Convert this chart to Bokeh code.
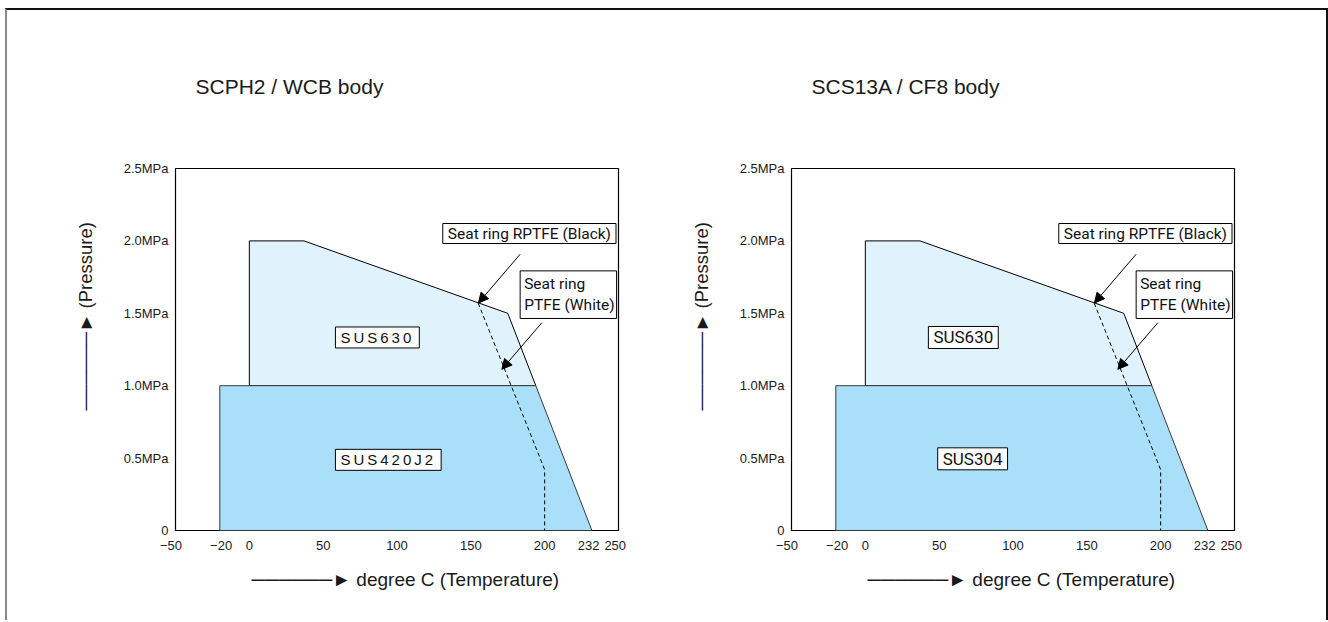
from bokeh.plotting import figure
from bokeh.models import Range1d, FixedTicker, Label, Arrow, NormalHead, Title
from bokeh.layouts import row
from bokeh.embed import file_html
from bokeh.resources import INLINE

# ---------------- data ----------------
titles = ["SCPH2 / WCB body", "SCS13A / CF8 body"]
upper_labels = ["\u2009".join("SUS630"), "SUS630"]
lower_labels = ["\u2009".join("SUS420J2"), "SUS304"]

x_ticks = [-50, -20, 0, 50, 100, 150, 200, 232, 250]
x_tick_labels = ["\u221250\u2002\u2009", "\u2009\u221220", "0", "50", "100", "150", "200",
                 "232\u2002", "250\u2002"]
y_ticks = [0, 0.5, 1.0, 1.5, 2.0, 2.5]
y_tick_labels = ["0", "0.5MPa", "1.0MPa", "1.5MPa", "2.0MPa", "2.5MPa"]
x_caption = "degree C (Temperature)"
y_caption = "(Pressure)"

# SUS630 (upper) limit region
upper_temp = [0, 0, 37, 175, 194]
upper_press = [1.0, 2.0, 2.0, 1.5, 1.0]
# SUS420J2 / SUS304 (lower) limit region
lower_temp = [-20, -20, 194, 232]
lower_press = [0, 1.0, 1.0, 0]
# PTFE (white) seat ring limit (dashed)
ptfe_temp = [155, 200, 200]
ptfe_press = [1.57, 0.42, 0]

FONT = "Liberation Sans"
NARROW = "Roboto"
ARROW = "\u2500" * 6 + "\u25ba"


def make_chart(i, width, min_left, min_right):
    p = figure(width=width, height=620, output_backend="svg", toolbar_location=None,
               title=titles[i],
               x_range=Range1d(-50, 250), y_range=Range1d(0, 2.5),
               min_border_left=min_left, min_border_right=min_right,
               min_border_top=168, min_border_bottom=90,
               styles={"margin-top": "-10px"})
    p.background_fill_color = "white"
    p.border_fill_color = "white"
    p.border_fill_alpha = 0
    p.outline_line_color = "black"
    p.outline_line_width = 1.2
    p.xgrid.visible = False
    p.ygrid.visible = False

    # chart title
    p.title.align = "left"
    p.title.offset = 20
    p.title.standoff = 142
    p.title.text_font = FONT
    p.title.text_font_size = "21px"
    p.title.text_font_style = "normal"
    p.title.text_color = "#1a1a1a"

    for ax in (p.xaxis[0], p.yaxis[0]):
        ax.axis_line_color = None
        ax.major_tick_line_color = None
        ax.minor_tick_line_color = None
        ax.major_tick_in = 0
        ax.major_tick_out = 0
        ax.minor_tick_in = 0
        ax.minor_tick_out = 0
        ax.major_label_text_font = FONT
        ax.major_label_text_font_size = "13px"
        ax.major_label_text_color = "#1a1a1a"
        ax.major_label_standoff = 7
    p.xaxis.ticker = FixedTicker(ticks=x_ticks)
    p.xaxis.major_label_overrides = dict(zip(x_ticks, x_tick_labels))
    p.yaxis.ticker = FixedTicker(ticks=y_ticks)
    p.yaxis.major_label_overrides = dict(zip(y_ticks, y_tick_labels))

    # axis captions (with arrows) as side-panel titles
    p.add_layout(Title(text=ARROW + "  " + y_caption, align="left", offset=120, standoff=49,
                       text_font=FONT, text_font_size="18.5px", text_font_style="normal",
                       text_color="#1a1a1a"), "left")
    p.add_layout(Title(text=ARROW + "  " + x_caption, align="left", offset=76, standoff=23,
                       text_font=FONT, text_font_size="19px", text_font_style="normal",
                       text_color="#1a1a1a"), "below")

    # regions
    p.patch(upper_temp, upper_press, fill_color="#e0f2fc", line_color="black", line_width=1)
    p.patch(lower_temp, lower_press, fill_color="#aadff9", line_color="#3a3a3a", line_width=1)
    p.line(ptfe_temp, ptfe_press, line_color="black", line_width=1, line_dash="4 3")

    # material labels
    if i == 0:
        lab_font, lab_size = FONT, "15px"
        upos, lpos = (58.3, 1.333), (58.3, 0.488)
        pad = dict(left=5, right=8, top=2, bottom=2)
    else:
        lab_font, lab_size = NARROW, "17px"
        upos, lpos = (42.7, 1.333), (49.0, 0.495)
        pad = dict(left=5, right=5, top=1, bottom=1)
    for (xv, yv), txt in ((upos, upper_labels[i]), (lpos, lower_labels[i])):
        p.add_layout(Label(x=xv, y=yv, text=txt, text_align="left", text_baseline="middle",
                           text_font=lab_font, text_font_size=lab_size, text_color="#111111",
                           background_fill_color="white", border_line_color="black",
                           border_line_width=1, padding=pad))

    # seat ring call-outs
    p.add_layout(Label(x=131.0, y=2.12, text="Seat ring RPTFE (Black)",
                       text_align="left", text_baseline="top",
                       text_font=NARROW, text_font_size="15.5px", text_color="#111111",
                       background_fill_color="white", border_line_color="black",
                       border_line_width=1, padding=dict(left=5, right=5, top=1, bottom=1)))
    p.add_layout(Arrow(x_start=183.4, y_start=1.908, x_end=155.1, y_end=1.571,
                       line_color="black", line_width=1,
                       end=NormalHead(size=10, fill_color="black", line_color="black")))
    p.add_layout(Label(x=183.4, y=1.793, text="Seat ring\nPTFE (White)",
                       text_align="left", text_baseline="top",
                       text_font=NARROW, text_font_size="15.5px", text_color="#111111",
                       background_fill_color="white", border_line_color="black",
                       border_line_width=1, padding=dict(left=4, right=2, top=4, bottom=4)))
    p.add_layout(Arrow(x_start=198.1, y_start=1.435, x_end=171.0, y_end=1.113,
                       line_color="black", line_width=1,
                       end=NormalHead(size=10, fill_color="black", line_color="black")))
    return p


p1 = make_chart(0, 630, 168, 19)
p2 = make_chart(1, 689, 154, 92)

layout = row(p1, p2, styles={"margin-left": "5px", "margin-top": "8px",
                             "border-left": "2px solid #8a8a8a",
                             "border-top": "2px solid #111111",
                             "border-right": "2px solid #111111"})

open("out.html", "w").write(file_html(layout, INLINE))
